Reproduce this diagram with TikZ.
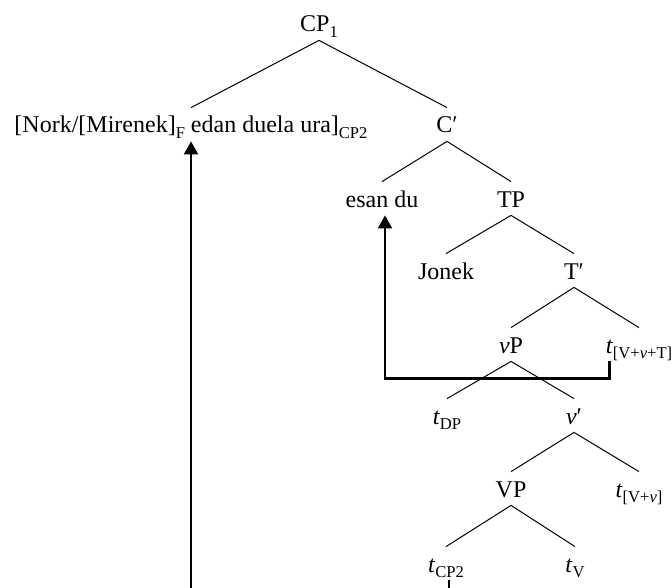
\documentclass[tikz,border=0pt]{standalone}
\usepackage{fontspec}
\setmainfont{Liberation Serif}
\usetikzlibrary{arrows.meta}
\newcommand\lsub[1]{\raisebox{-2.6pt}{\fontsize{8.3}{9}\selectfont #1}}
\begin{document}
\begin{tikzpicture}[x=0.5pt,y=-0.5pt,
  lbl/.style={anchor=base,inner sep=0pt,text height=12.5pt,text depth=4pt,font=\fontsize{12}{14}\selectfont},
  branch/.style={line width=0.5pt},
  mv/.style={line width=1.1pt,-{Triangle[width=7pt,length=6.5pt]}}]
\useasboundingbox (0,0) rectangle (672,587);
\clip (0,0) rectangle (672,587);
\node[lbl] (CP1) at (319,32) {CP\lsub{1}};
\node[lbl] (L) at (191,133) {[Nork/[Mirenek]\lsub{F} edan duela ura]\lsub{CP2}};
\node[lbl] (Cbar) at (447,133) {C′};
\node[lbl] (esan) at (382,207) {esan du};
\node[lbl] (TP) at (511,207) {TP};
\node[lbl] (Jonek) at (446,279) {Jonek};
\node[lbl] (Tbar) at (574,279) {T′};
\node[lbl] (vP) at (511,353) {\textit{v}P};
\node[lbl] (tVvT) at (639,353) {\textit{t}\lsub{[V+\textit{v}+T]}};
\node[lbl] (tDP) at (447,424) {\textit{t}\lsub{DP}};
\node[lbl] (vbar) at (574,424) {\textit{v}′};
\node[lbl] (VP) at (511,497) {VP};
\node[lbl] (tVv) at (639,497) {\textit{t}\lsub{[V+\textit{v}]}};
\node[lbl] (tCP2) at (446,572) {\textit{t}\lsub{CP2}};
\node[lbl] (tV) at (575,572) {\textit{t}\lsub{V}};
\coordinate (low) at (0,640);
\draw[branch] (L.north) -- (CP1.south) -- (Cbar.north);
\draw[branch] (esan.north) -- (Cbar.south) -- (TP.north);
\draw[branch] (Jonek.north) -- (TP.south) -- (Tbar.north);
\draw[branch] (vP.north) -- (Tbar.south) -- (tVvT.north);
\draw[branch] (tDP.north) -- (vP.south) -- (vbar.north);
\draw[branch] (VP.north) -- (vbar.south) -- (tVv.north);
\draw[branch] (tCP2.north) -- (VP.south) -- (tV.north);
\draw[mv] ([xshift=2pt]tVvT.south west) -- ++(0,17) -| ([xshift=1.5pt]esan.south);
\draw[mv] ([xshift=1.5pt]tCP2.south) |- (low) -| (L.south);
\end{tikzpicture}
\end{document}
